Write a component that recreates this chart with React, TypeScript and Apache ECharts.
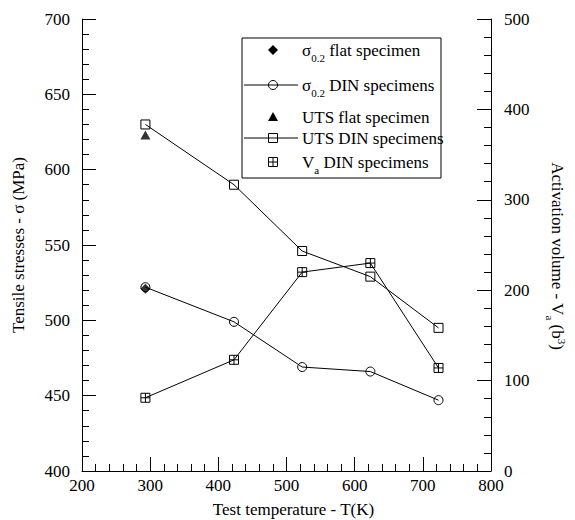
import React, { useEffect, useRef } from 'react';
import * as echarts from 'echarts';

const FONT = 'Liberation Serif';

const temps = [293, 423, 523, 623, 723];
const sigmaDIN = [522, 499, 469, 466, 447];
const utsDIN = [630, 590, 546, 529, 495];
const vaDIN = [81, 123, 220, 230, 114];
const sigmaFlat = [[293, 521]];
const utsFlat = [[293, 623]];

const xTicks = { min: 200, max: 800, interval: 100 };
const yLeft = { min: 400, max: 700, interval: 50 };
const yRight = { min: 0, max: 500, interval: 100 };

const CROSS_SQ = 'path://M0,0L10,0L10,10L0,10Z M5,0L5,10 M0,5L10,5';

const rich = {
  s: { fontSize: 11, fontFamily: FONT, color: '#000', padding: [15, 0, 0, 0] },
  u: { fontSize: 11, fontFamily: FONT, color: '#000', padding: [0, 0, 9, 0] },
};

const pair = (xs: number[], ys: number[]) => xs.map((x, i) => [x, ys[i]]);

const lineSeries = (name: string, data: number[][], symbol: string, size: number, yAxisIndex = 0) => ({
  name,
  type: 'line',
  data,
  yAxisIndex,
  symbol,
  symbolSize: size,
  showSymbol: true,
  lineStyle: { color: '#000', width: 1 },
  itemStyle: { color: 'rgba(0,0,0,0)', borderColor: '#000', borderWidth: 1 },
  emphasis: { disabled: true },
  z: 3,
});

function legendGraphic() {
  const mx = 273;
  const tx = 302;
  const ys = [50, 85, 117, 138, 162];
  const Z = 11;
  const txt = (y: number, text: string) => ({
    type: 'text',
    x: tx,
    y,
    z: Z,
    style: {
      text,
      rich,
      fontSize: 17,
      fontFamily: FONT,
      fill: '#000',
      verticalAlign: 'middle',
      align: 'left',
    },
  });
  const ln = (y: number) => ({
    type: 'line',
    z: Z,
    shape: { x1: 244, y1: y, x2: 298, y2: y },
    style: { stroke: '#000', lineWidth: 1 },
  });
  return [
    {
      type: 'rect',
      shape: { x: 242, y: 38, width: 199, height: 140 },
      style: { fill: '#fff', stroke: '#000', lineWidth: 1 },
      z: 10,
    },
    { type: 'polygon', z: Z, shape: { points: [[mx, ys[0] - 5], [mx + 5, ys[0]], [mx, ys[0] + 5], [mx - 5, ys[0]]] }, style: { fill: '#000' } },
    txt(ys[0], 'σ{s|0.2} flat specimen'),
    ln(ys[1]),
    { type: 'circle', z: Z, shape: { cx: mx, cy: ys[1], r: 4.5 }, style: { fill: 'none', stroke: '#000', lineWidth: 1 } },
    txt(ys[1], 'σ{s|0.2} DIN specimens'),
    { type: 'polygon', z: Z, shape: { points: [[mx, ys[2] - 5], [mx + 5, ys[2] + 4], [mx - 5, ys[2] + 4]] }, style: { fill: '#000' } },
    txt(ys[2], 'UTS flat specimen'),
    ln(ys[3]),
    { type: 'rect', z: Z, shape: { x: mx - 4.5, y: ys[3] - 4.5, width: 9, height: 9 }, style: { fill: 'none', stroke: '#000', lineWidth: 1 } },
    txt(ys[3], 'UTS DIN specimens'),
    { type: 'rect', z: Z, shape: { x: mx - 4.5, y: ys[4] - 4.5, width: 9, height: 9 }, style: { fill: 'none', stroke: '#000', lineWidth: 1 } },
    { type: 'line', z: Z, shape: { x1: mx, y1: ys[4] - 4.5, x2: mx, y2: ys[4] + 4.5 }, style: { stroke: '#000', lineWidth: 1 } },
    { type: 'line', z: Z, shape: { x1: mx - 4.5, y1: ys[4], x2: mx + 4.5, y2: ys[4] }, style: { stroke: '#000', lineWidth: 1 } },
    txt(ys[4], 'V{s|a} DIN specimens'),
  ];
}

const axisCommon = {
  axisLine: { show: true, lineStyle: { color: '#000', width: 1 } },
  axisTick: { show: true, inside: true, length: 14, lineStyle: { color: '#000', width: 1 } },
  minorTick: { show: true, splitNumber: 5, length: 7, lineStyle: { color: '#000', width: 1 } },
  splitLine: { show: false },
  minorSplitLine: { show: false },
  axisLabel: { color: '#000', fontSize: 17, fontFamily: FONT },
  nameTextStyle: { color: '#000', fontSize: 17, fontFamily: FONT, rich },
};

const option = {
  animation: false,
  backgroundColor: '#fff',
  textStyle: { fontFamily: FONT },
  grid: { left: 82, top: 19, width: 409, height: 452, containLabel: false, outerBoundsMode: 'none' },
  xAxis: {
    type: 'value',
    ...xTicks,
    ...axisCommon,
    axisLabel: { ...axisCommon.axisLabel, margin: 6 },
    name: 'Test temperature - T(K)',
    nameLocation: 'middle',
    nameGap: 30,
    nameTextStyle: { ...axisCommon.nameTextStyle, padding: [0, 0, 0, 14] },
  },
  yAxis: [
    {
      type: 'value',
      position: 'left',
      ...yLeft,
      ...axisCommon,
      axisLabel: { ...axisCommon.axisLabel, margin: 12 },
      name: 'Tensile stresses - σ (MPa)',
      nameLocation: 'middle',
      nameRotate: 90,
      nameGap: 55,
    },
    {
      type: 'value',
      position: 'right',
      ...yRight,
      ...axisCommon,
      axisLabel: { ...axisCommon.axisLabel, margin: 13 },
      name: 'Activation volume - V{s|a} (b{u|3})',
      nameLocation: 'middle',
      nameRotate: -90,
      nameGap: 53,
      nameTextStyle: { ...axisCommon.nameTextStyle, padding: [0, 0, 0, 22] },
    },
  ],
  graphic: legendGraphic(),
  series: [
    lineSeries('σ0.2 DIN specimens', pair(temps, sigmaDIN), 'circle', 9),
    lineSeries('UTS DIN specimens', pair(temps, utsDIN), 'rect', 9),
    lineSeries('Va DIN specimens', pair(temps, vaDIN), CROSS_SQ, 9, 1),
    {
      name: 'σ0.2 flat specimen',
      type: 'scatter',
      data: sigmaFlat,
      symbol: 'diamond',
      symbolSize: [10, 10],
      itemStyle: { color: '#000' },
      z: 4,
    },
    {
      name: 'UTS flat specimen',
      type: 'scatter',
      data: utsFlat,
      symbol: 'triangle',
      symbolSize: [10, 9],
      itemStyle: { color: '#000' },
      z: 4,
    },
  ],
};

export default function App() {
  const ref = useRef<HTMLDivElement>(null);
  useEffect(() => {
    const chart = echarts.init(ref.current!, null, { renderer: 'svg' });
    chart.setOption(option as any);
    return () => chart.dispose();
  }, []);
  return (
    <div
      ref={ref}
      style={{ position: 'absolute', left: 0, top: 0, width: 575, height: 520, background: '#fff' }}
    />
  );
}
